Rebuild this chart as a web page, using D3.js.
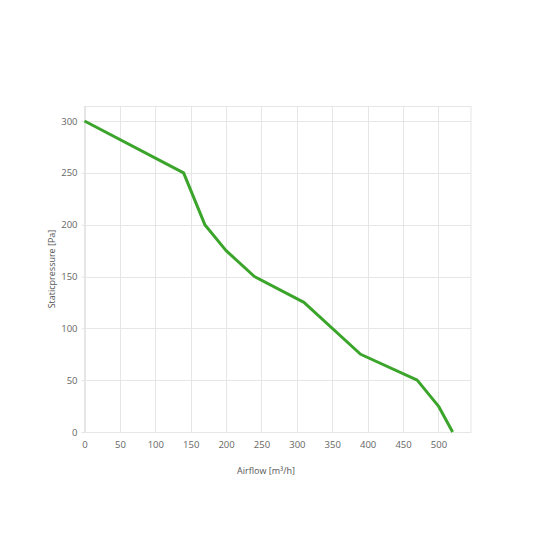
<!DOCTYPE html>
<html><head><meta charset="utf-8">
<script src="https://cdn.jsdelivr.net/npm/d3@7"></script>
<style>body{margin:0;background:#fff}svg{display:block}text{font-family:"Open Sans","Noto Sans",sans-serif}</style>
</head><body>
<svg id="c" width="533" height="533"></svg>
<script>
const airflow = [0, 140, 170, 200, 240, 310, 390, 470, 500, 520];
const pressure = [300, 250, 200, 175, 150, 125, 75, 50, 25, 0];
const xTicks = [0, 50, 100, 150, 200, 250, 300, 350, 400, 450, 500];
const yTicks = [0, 50, 100, 150, 200, 250, 300];
const xLabel = "Airflow [m³/h]";
const yLabel = "Staticpressure [Pa]";

const svg = d3.select("#c");
const L = 84.5, R = 471, T = 106, B = 432;
const x = d3.scaleLinear().domain([0, 546]).range([L, R]);
const y = d3.scaleLinear().domain([0, 314.5]).range([B, T]);

const grid = svg.append("g");
grid.selectAll("line.v").data(xTicks).join("line")
  .attr("x1", d => Math.round(x(d)) + 0.5).attr("x2", d => Math.round(x(d)) + 0.5)
  .attr("y1", T).attr("y2", B).attr("stroke", "#e6e6e6");
grid.selectAll("line.h").data(yTicks).join("line")
  .attr("y1", d => Math.round(y(d)) + 0.5).attr("y2", d => Math.round(y(d)) + 0.5)
  .attr("x1", L).attr("x2", R).attr("stroke", "#e6e6e6");
svg.append("rect").attr("x", L).attr("y", T + 0.5).attr("width", R - L).attr("height", B - T)
  .attr("fill", "none").attr("stroke", "#e6e6e6");

const xa = svg.append("g").attr("transform", `translate(0,${B})`)
  .call(d3.axisBottom(x).tickValues(xTicks).tickSize(0).tickPadding(9));
const ya = svg.append("g").attr("transform", `translate(${L},0)`)
  .call(d3.axisLeft(y).tickValues(yTicks).tickSize(3).tickPadding(4));
[xa, ya].forEach(a => {
  a.select(".domain").remove();
  a.selectAll("text").attr("fill", "#666").attr("font-size", "9.5px").style("font-family", '"Open Sans","Noto Sans",sans-serif');
  a.selectAll("line").attr("stroke", "#e6e6e6");
});

const pts = airflow.map((d, i) => [d, pressure[i]]);
svg.append("path").datum(pts)
  .attr("d", d3.line().x(d => x(d[0])).y(d => y(d[1])))
  .attr("fill", "none").attr("stroke", "#3ba42b").attr("stroke-width", 3)
  .attr("stroke-linejoin", "round").attr("stroke-linecap", "butt");

svg.append("text").attr("x", 266).attr("y", 474).attr("text-anchor", "middle")
  .attr("font-size", "9px").attr("fill", "#555").text(xLabel);
svg.append("text").attr("transform", "translate(55,269) rotate(-90)").attr("text-anchor", "middle")
  .attr("font-size", "9px").attr("fill", "#555").text(yLabel);
</script>
</body></html>
